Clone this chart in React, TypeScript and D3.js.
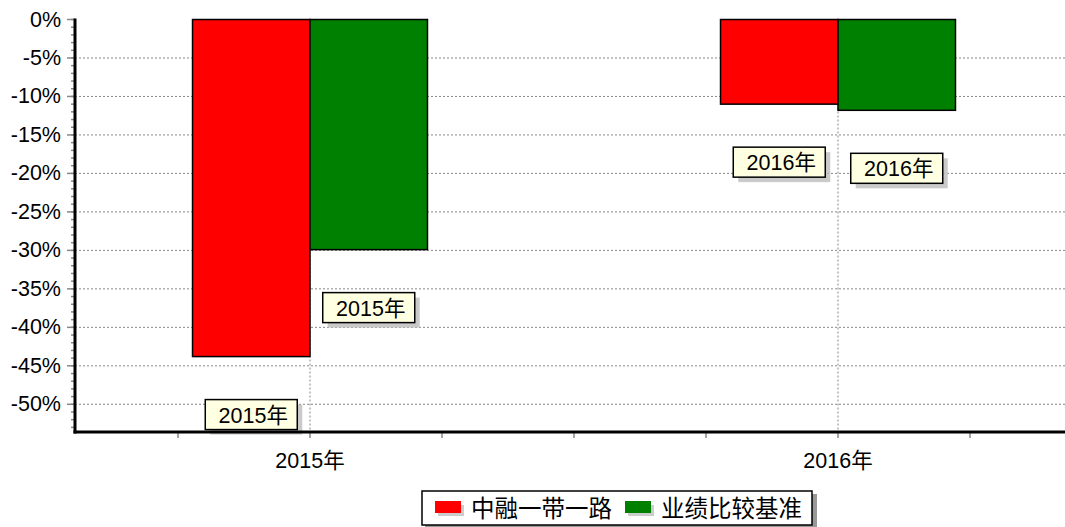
import React from "react";
import * as d3 from "d3";

const categories = ["2015年", "2016年"];
const seriesNames = ["中融一带一路", "业绩比较基准"];
const seriesColors = ["#ff0000", "#008000"];
const fundValues = [-43.8, -11.0];
const benchValues = [-29.9, -11.8];
const yTicks = [0, -5, -10, -15, -20, -25, -30, -35, -40, -45, -50];

const W = 1065;
const H = 527;
const FONT = "Arial, 'Liberation Sans', 'Noto Sans CJK SC', sans-serif";

export default function App() {
  const left = 75;
  const right = 1065;
  const top = 19.5;
  const bottom = 432;
  const y = d3.scaleLinear().domain([0, -53.6]).range([top, bottom]);
  const x = d3.scaleBand<string>().domain(categories).range([46, 1102]).padding(0);
  const bw = x.bandwidth();
  const barW = bw * 0.2225;
  const series = [fundValues, benchValues];

  const minorTicks = d3.range(0, -54, -1);
  const xTickPos: number[] = [];
  categories.forEach((c) => {
    const s = x(c)!;
    [0.25, 0.5, 0.75, 1].forEach((f) => xTickPos.push(s + bw * f));
  });

  const labelW = 92;
  const labelH = 30;

  return (
    <svg width={W} height={H} style={{ position: "absolute", left: 0, top: 0, background: "#fff" }} fontFamily={FONT}>
      {yTicks.filter((t) => t !== 0).map((t) => (
        <line key={"g" + t} x1={left} x2={right} y1={y(t)} y2={y(t)} stroke="#888" strokeWidth={1} strokeDasharray="2,2" />
      ))}
      {categories.map((c) => {
        const cx = x(c)! + bw / 2;
        return <line key={"vg" + c} x1={cx} x2={cx} y1={top} y2={bottom} stroke="#888" strokeWidth={1} strokeDasharray="2,2" />;
      })}
      {series.map((vals, si) =>
        categories.map((c, ci) => {
          const cx = x(c)! + bw / 2;
          const bx = si === 0 ? cx - barW : cx;
          const y0 = y(0);
          const y1 = y(vals[ci]);
          return (
            <rect key={`b${si}-${ci}`} x={bx} y={y0} width={barW} height={y1 - y0} fill={seriesColors[si]} stroke="#000" strokeWidth={1.5} />
          );
        })
      )}
      {series.map((vals, si) =>
        categories.map((c, ci) => {
          const cx = x(c)! + bw / 2;
          const lx = (si === 0 ? cx - barW / 2 : cx + barW / 2) - labelW / 2;
          const ly = y(vals[ci]) + 58 - labelH / 2;
          return (
            <g key={`l${si}-${ci}`}>
              <rect x={lx + 5} y={ly + 5} width={labelW} height={labelH} fill="#bdbdbd" opacity={0.8} />
              <rect x={lx} y={ly} width={labelW} height={labelH} fill="#ffffe1" stroke="#000" strokeWidth={1.5} />
              <text x={lx + labelW / 2 + 2} y={ly + labelH / 2 + 1} textAnchor="middle" dominantBaseline="central" fontSize={21.5} fill="#000">
                {c}
              </text>
            </g>
          );
        })
      )}
      {minorTicks.map((t) => (
        <line key={"mt" + t} x1={left - 4} x2={left} y1={y(t)} y2={y(t)} stroke="#888" strokeWidth={1.5} />
      ))}
      {yTicks.map((t) => (
        <g key={"yt" + t}>
          <line x1={left - 8} x2={left} y1={y(t)} y2={y(t)} stroke="#888" strokeWidth={1.5} />
          <text x={61} y={y(t)} textAnchor="end" dominantBaseline="central" fontSize={21.5} fill="#000">
            {t + "%"}
          </text>
        </g>
      ))}
      {xTickPos.filter((p) => p > left && p < right).map((p, i) => (
        <line key={"xt" + i} x1={p} x2={p} y1={bottom} y2={bottom + 6} stroke="#888" strokeWidth={1.5} />
      ))}
      {categories.map((c) => (
        <text key={"xl" + c} x={x(c)! + bw / 2} y={461} textAnchor="middle" dominantBaseline="central" fontSize={21.5} fill="#000">
          {c}
        </text>
      ))}
      <line x1={left} x2={left} y1={top - 1} y2={bottom + 1.5} stroke="#000" strokeWidth={3} />
      <line x1={left - 1.5} x2={right} y1={bottom} y2={bottom} stroke="#000" strokeWidth={3} />
      <g>
        <rect x={425} y={494} width={392} height={33} fill="#999" />
        <rect x={422} y={491} width={390} height={34} fill="#fff" stroke="#000" strokeWidth={1.5} />
        {seriesNames.map((n, i) => {
          const sx = i === 0 ? 435 : 625;
          return (
            <g key={"lg" + i}>
              <rect x={sx + 3} y={505} width={26} height={11} fill="#ccc" />
              <rect x={sx} y={501} width={26} height={12} fill={seriesColors[i]} />
              <text x={sx + 36} y={509} dominantBaseline="central" fontSize={23.5} fill="#000">
                {n}
              </text>
            </g>
          );
        })}
      </g>
    </svg>
  );
}
